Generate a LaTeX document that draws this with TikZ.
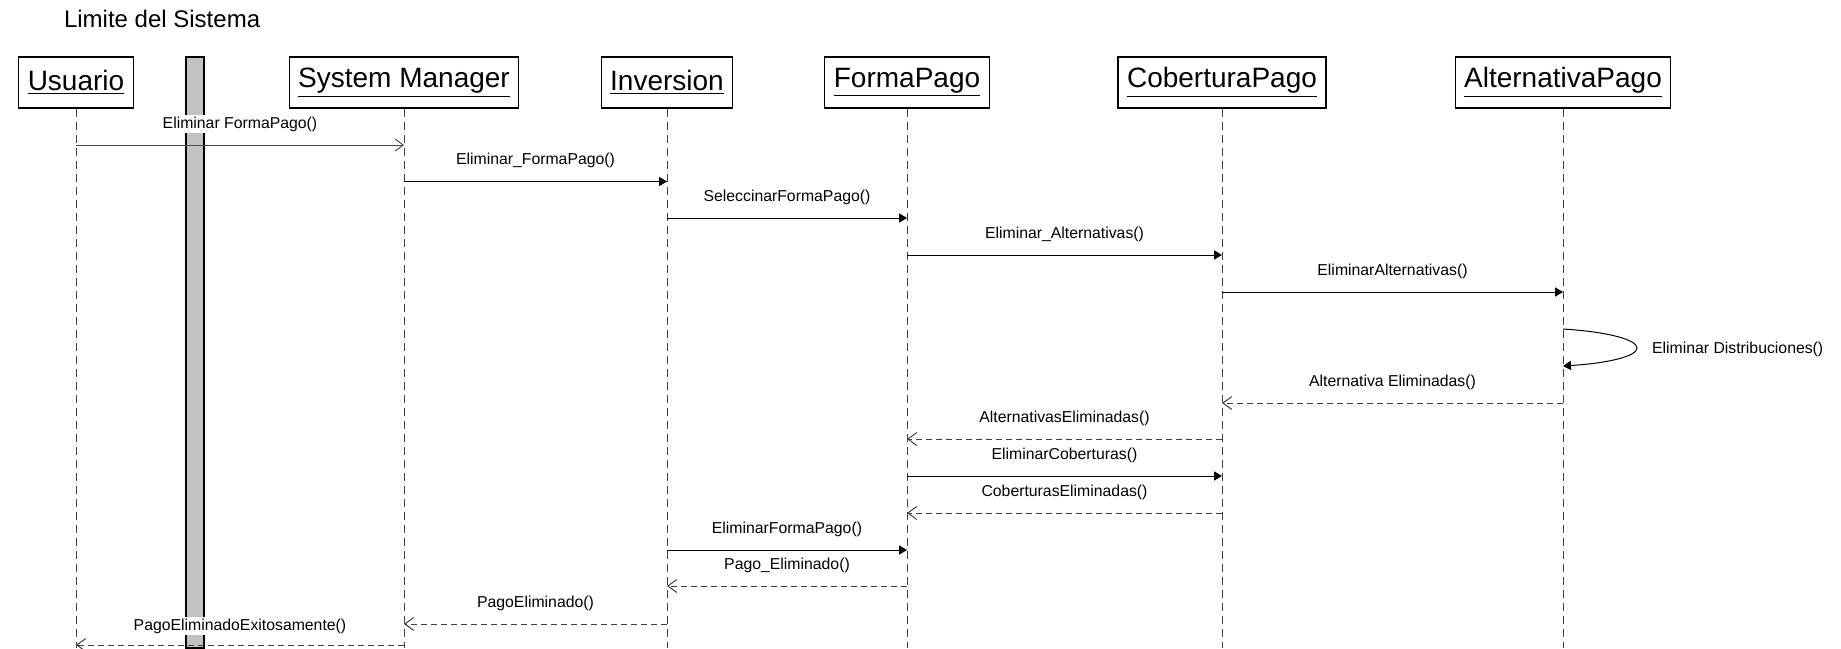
\documentclass[tikz,border=0pt]{standalone}
\usepackage{fontspec}
\setmainfont{Liberation Sans}
\usetikzlibrary{arrows.meta}

\begin{document}
\begin{tikzpicture}[x=0.5pt,y=-0.5pt,
    obj/.style={draw, line width=0.6pt, minimum height=25.5pt, inner xsep=4.5pt, font=\fontsize{14}{16}\selectfont},
    life/.style={draw=black!75, line width=0.5pt, dash pattern=on 4pt off 2.5pt},
    call/.style={line width=0.5pt, -{Triangle[length=4pt,width=4.6pt]}},
    ask/.style={draw=black!70, line width=0.5pt, -{Straight Barb[length=4pt,width=6pt]}},
    back/.style={draw=black!75, line width=0.5pt, dash pattern=on 3pt off 2pt, -{Straight Barb[length=4.5pt,width=6.5pt]}},
    msg/.style={midway, yshift=10.5pt, fill=white, inner sep=1pt, font=\fontsize{7.9}{9}\selectfont}]
        \useasboundingbox (0,0) rectangle (1841,648);
        \node [anchor=base west, font=\fontsize{12}{14}\selectfont] (title) at (57,27) {Limite del Sistema};
        % system boundary
        \draw[fill=black!24, line width=0.6pt] (186,57) rectangle (204,648);
        % objects
        \node [obj] (usr) at (76,82.5) {\underline{Usuario}};
        \node [obj] (sm) at (404,82.5) {\underline{System Manager}};
        \node [obj] (inv) at (667,82.5) {\underline{Inversion}};
        \node [obj] (fp) at (907,82.5) {\underline{FormaPago}};
        \node [obj] (cob) at (1222,82.5) {\underline{CoberturaPago}};
        \node [obj] (alt) at (1563,82.5) {\underline{AlternativaPago}};
        \foreach \o in {usr,sm,inv,fp,cob,alt}
            \draw[life] (\o.south) -- (\o.south |- 0,648);
        % messages
        \draw[ask] (usr |- 0,145) -- node[msg] {Eliminar FormaPago()} (sm |- 0,145);
        \draw[call] (sm |- 0,181.5) -- node[msg] {Eliminar\_FormaPago()} (inv |- 0,181.5);
        \draw[call] (inv |- 0,218) -- node[msg] {SeleccinarFormaPago()} (fp |- 0,218);
        \draw[call] (fp |- 0,255) -- node[msg] {Eliminar\_Alternativas()} (cob |- 0,255);
        \draw[call] (cob |- 0,292) -- node[msg] {EliminarAlternativas()} (alt |- 0,292);
        \draw[call] (alt |- 0,329) .. controls (1610,332) and (1637,340) .. (1637,348)
            .. controls (1637,356) and (1610,363) .. (alt |- 0,366);
        \node [anchor=west, font=\fontsize{7.9}{9}\selectfont] (dist) at (1645,349) {Eliminar Distribuciones()};
        \draw[back] (alt |- 0,403) -- node[msg] {Alternativa Eliminadas()} (cob |- 0,403);
        \draw[back] (cob |- 0,439) -- node[msg] {AlternativasEliminadas()} (fp |- 0,439);
        \draw[call] (fp |- 0,476) -- node[msg] {EliminarCoberturas()} (cob |- 0,476);
        \draw[back] (cob |- 0,513) -- node[msg] {CoberturasEliminadas()} (fp |- 0,513);
        \draw[call] (inv |- 0,550) -- node[msg] {EliminarFormaPago()} (fp |- 0,550);
        \draw[back] (fp |- 0,586) -- node[msg] {Pago\_Eliminado()} (inv |- 0,586);
        \draw[back] (inv |- 0,624) -- node[msg] {PagoEliminado()} (sm |- 0,624);
        \draw[back] (sm |- 0,645) -- node[msg, yshift=-1pt] {PagoEliminadoExitosamente()} (usr |- 0,645);
    \end{tikzpicture}
\end{document}
